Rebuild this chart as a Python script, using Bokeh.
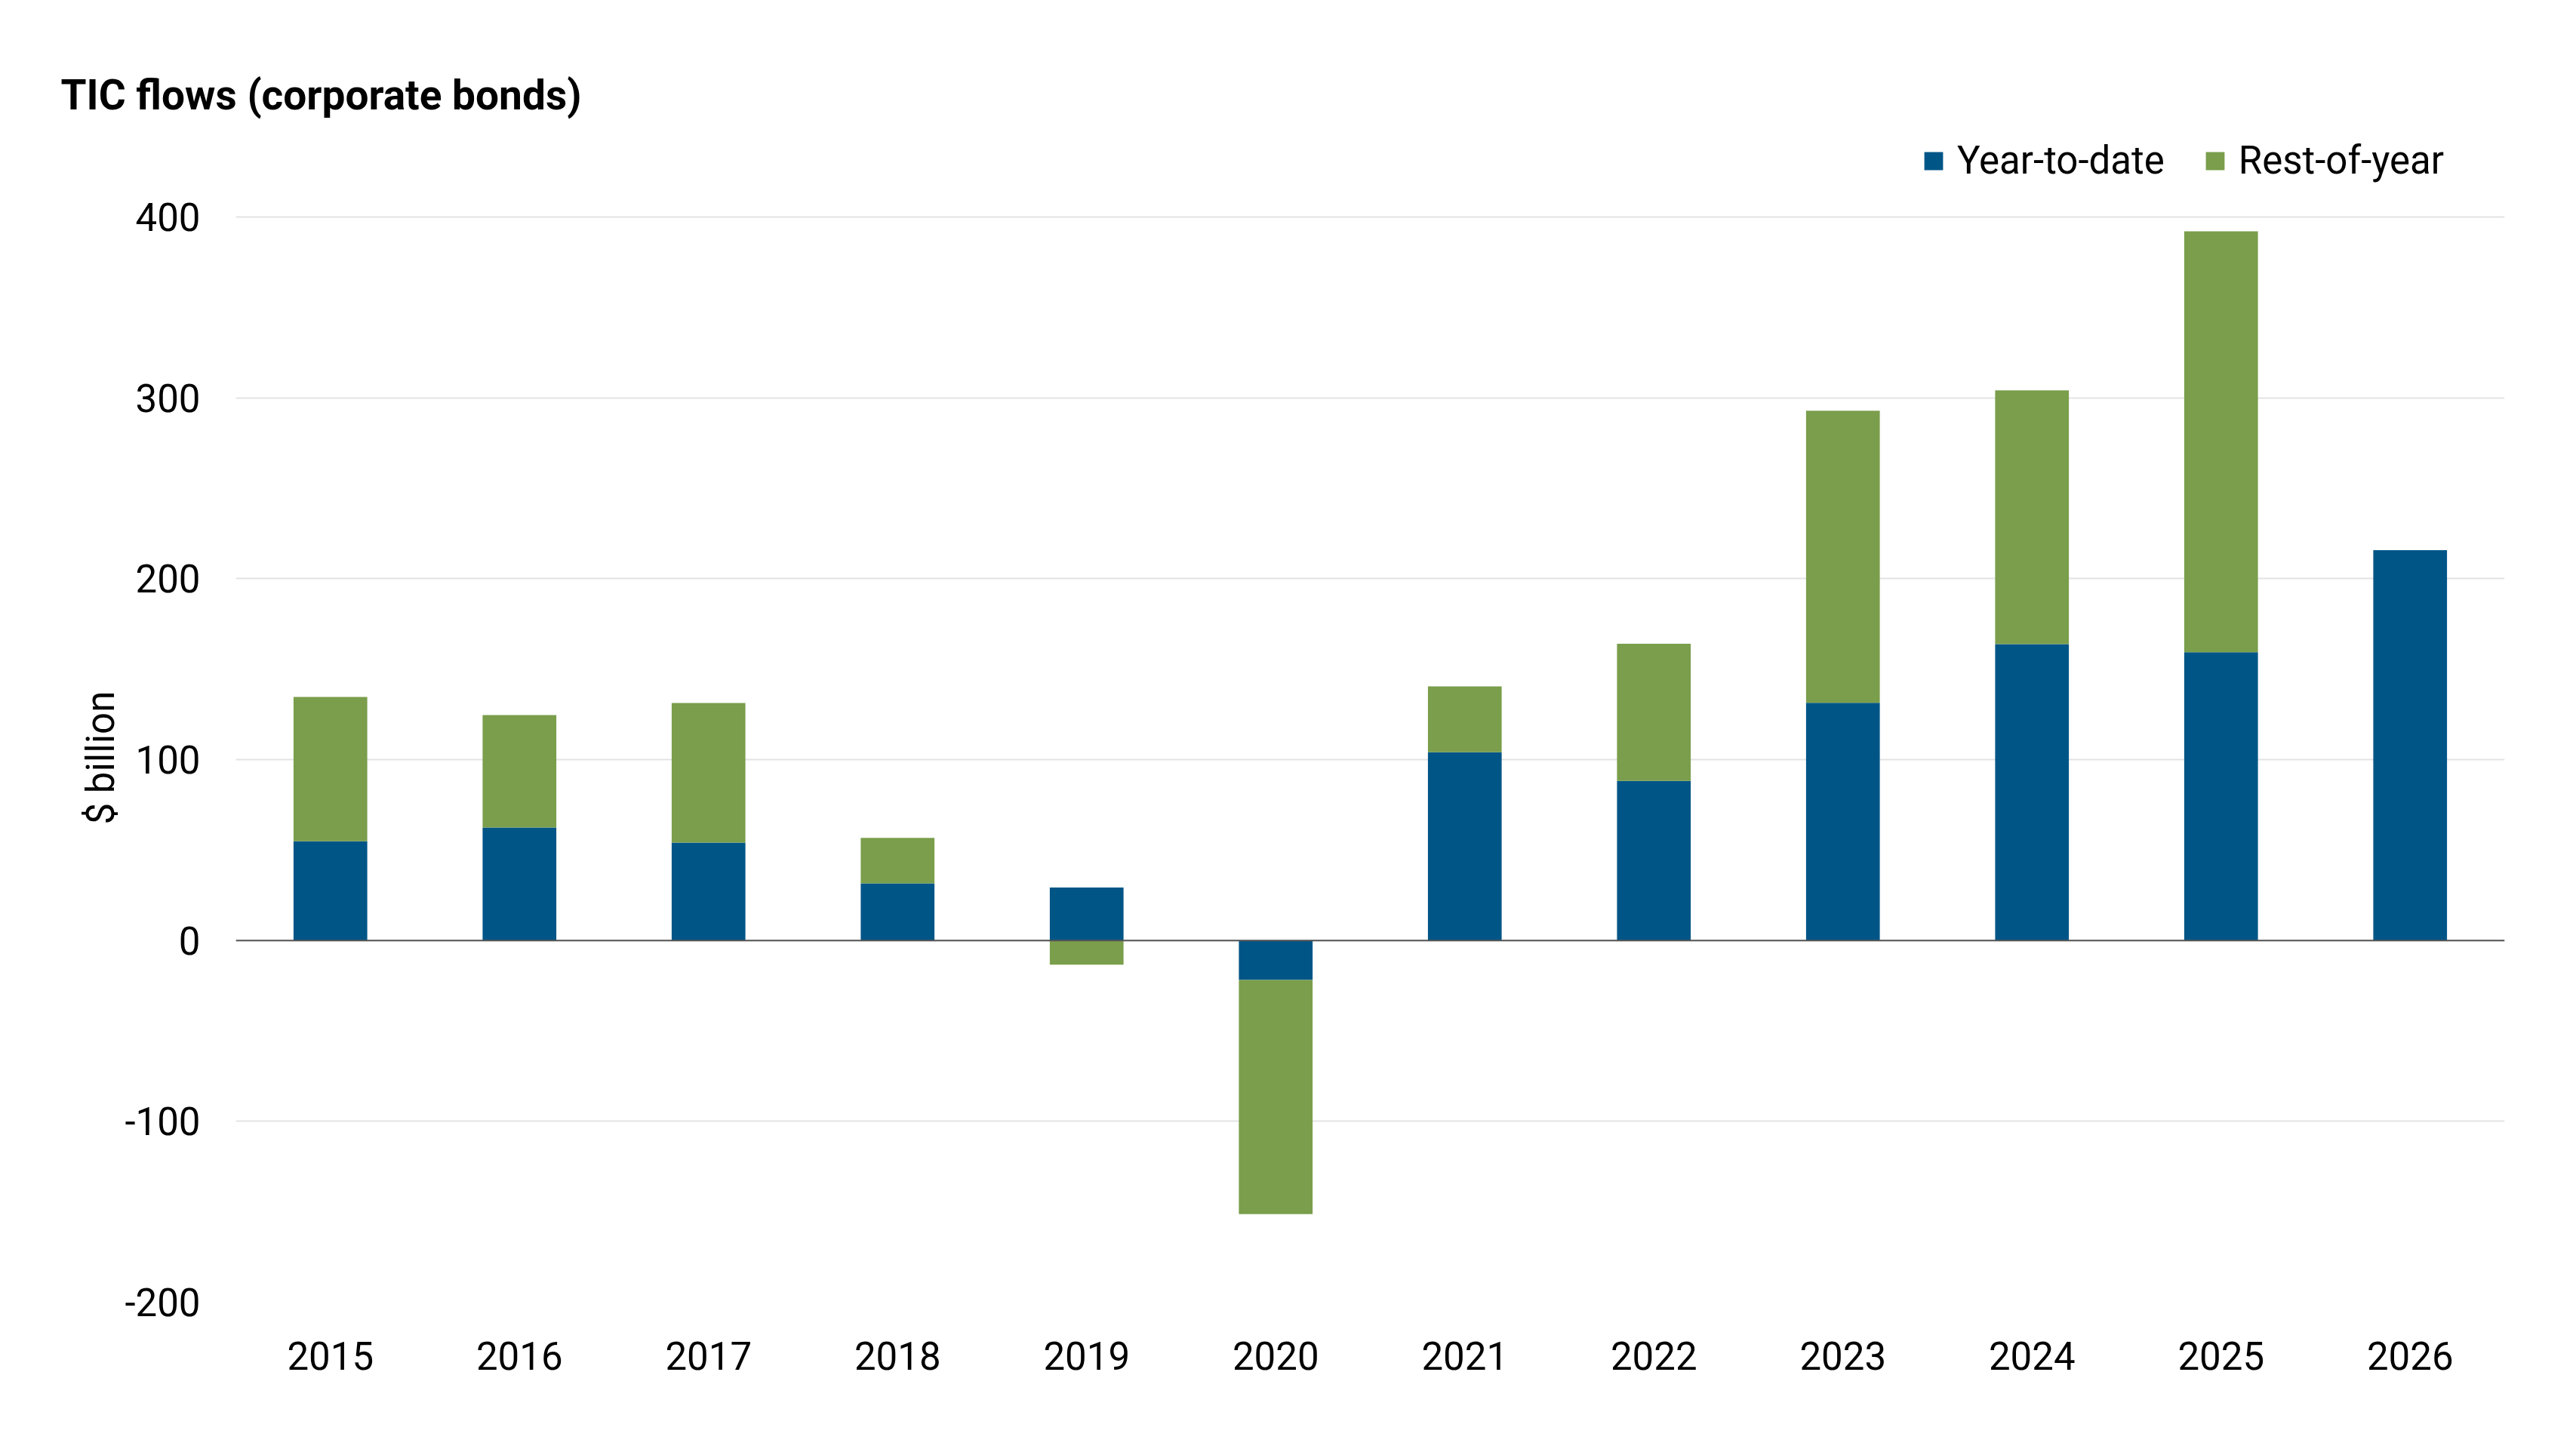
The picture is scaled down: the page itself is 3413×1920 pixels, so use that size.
from bokeh.plotting import figure
from bokeh.models import (ColumnDataSource, FactorRange, Range1d, FixedTicker, Span,
                          Legend, LegendItem, Title)
from bokeh.embed import file_html
from bokeh.resources import INLINE

# ---- data ----
years = ["2015", "2016", "2017", "2018", "2019", "2020",
         "2021", "2022", "2023", "2024", "2025", "2026"]
year_to_date = [54.8, 62.4, 54.1, 31.6, 29.3, -21.8, 104.1, 88.2, 131.4, 163.8, 159.3, 215.8]
rest_of_year = [79.8, 62.2, 77.2, 25.1, -13.4, -129.5, 36.4, 75.8, 161.5, 140.3, 232.8, 0.0]
y_ticks = [-200, -100, 0, 100, 200, 300, 400]
y_tick_labels = ["-200", "-100", "0", "100", "200", "300", "400"]

title_text = "TIC flows (corporate bonds)"
y_label = "$ billion"
series_names = ["Year-to-date", "Rest-of-year"]

BLUE = "#005587"
GREEN = "#7A9E4B"
FONT = "Roboto"

# stacking: same-sign parts stack, opposite-sign parts start from zero
ytd_bottom = [0.0] * len(years)
ytd_top = list(year_to_date)
rest_bottom = [a if (a >= 0) == (b >= 0) else 0.0 for a, b in zip(year_to_date, rest_of_year)]
rest_top = [rb + b for rb, b in zip(rest_bottom, rest_of_year)]

src = ColumnDataSource(dict(year=years, ytd_b=ytd_bottom, ytd_t=ytd_top,
                            rest_b=rest_bottom, rest_t=rest_top))

W, H = 3397, 1904
TOP, BOTTOM, LEFT, RIGHT = 170, 179, 312, 79

# frame extends above the 400 line to hold the legend band
p = figure(width=W, height=H, x_range=FactorRange(*years, range_padding=0),
           y_range=Range1d(-200, 448.8), output_backend="svg", toolbar_location=None,
           min_border_left=LEFT, min_border_right=RIGHT,
           min_border_top=TOP, min_border_bottom=BOTTOM)

p.outline_line_color = None
p.background_fill_color = "white"
p.border_fill_color = "white"

r1 = p.vbar(x="year", bottom="ytd_b", top="ytd_t", width=0.39, source=src,
            fill_color=BLUE, line_color=None)
r2 = p.vbar(x="year", bottom="rest_b", top="rest_t", width=0.39, source=src,
            fill_color=GREEN, line_color=None)

# axes
p.yaxis.ticker = FixedTicker(ticks=y_ticks)
p.yaxis.major_label_overrides = {t: l for t, l in zip(y_ticks, y_tick_labels)}
for ax in (p.xaxis[0], p.yaxis[0]):
    ax.axis_line_color = None
    ax.major_tick_line_color = None
    ax.minor_tick_line_color = None
    ax.major_tick_out = 0
    ax.major_tick_in = 0
    ax.major_label_text_font = FONT
    ax.major_label_text_font_size = "51px"
    ax.major_label_text_color = "#000000"
p.xaxis.major_label_standoff = 52
p.yaxis.major_label_standoff = 47

# y-axis title, centred on the -200..400 span
y_title = Title(text=y_label, align="left", offset=633, text_font=FONT,
                text_font_style="normal", text_font_size="51px",
                text_color="#000000", standoff=0)
p.add_layout(y_title, "left")

p.xgrid.grid_line_color = None
p.ygrid.grid_line_color = "#e3e3e3"
p.ygrid.grid_line_width = 2

p.add_layout(Span(location=0, dimension="width", line_color="#555555", line_width=2))

# title
p.title.text = title_text
p.title.align = "left"
p.title.offset = -232
p.title.text_font = FONT
p.title.text_font_style = "bold"
p.title.text_font_size = "55px"
p.title.text_color = "#000000"
p.title.standoff = 0
p.title.padding = dict(left=0, right=0, top=0, bottom=13)

# legend (inside the frame's upper empty band)
legend = Legend(items=[LegendItem(label=series_names[0], renderers=[r1]),
                       LegendItem(label=series_names[1], renderers=[r2])],
                location=(2234, 1483), orientation="horizontal",
                glyph_width=31, glyph_height=30, label_standoff=16, spacing=51,
                padding=0, margin=0, border_line_color=None,
                background_fill_alpha=0,
                label_text_font=FONT, label_text_font_size="51px",
                label_text_color="#000000")
p.add_layout(legend, "center")

open("out.html", "w").write(file_html(p, INLINE))
